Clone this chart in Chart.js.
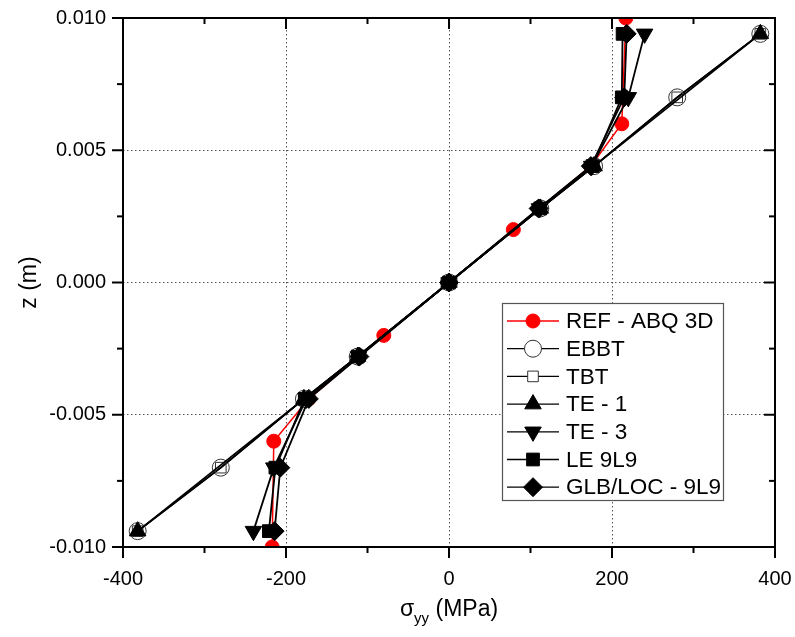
<!DOCTYPE html>
<html><head><meta charset="utf-8">
<style>html,body{margin:0;padding:0;background:#fff;} canvas{display:block;}</style>
<script src="https://cdn.jsdelivr.net/npm/chart.js"></script>
</head><body>
<canvas id="c" width="795" height="637"></canvas>
<script>
// ---- data ----
const seriesNames = ['REF - ABQ 3D', 'EBBT', 'TBT', 'TE - 1', 'TE - 3', 'LE 9L9', 'GLB/LOC - 9L9'];
const zRef   = [0.010, 0.006, 0.0044, 0.002, 0, -0.002, -0.0044, -0.006, -0.010];
const sRef   = [217, 212, 174, 79, 0, -80, -172, -215, -217];
const zModel = [0.0094, 0.007, 0.0044, 0.0028, 0, -0.0028, -0.0044, -0.007, -0.0094];
const sEBBT  = [382, 280, 178, 112, 0, -112, -178, -280, -382];
const sTBT   = [382, 280, 178, 112, 0, -112, -178, -280, -382];
const zTE1   = [0.0094, 0.0044, 0.0028, 0, -0.0028, -0.0044, -0.0094];
const sTE1   = [382, 178, 112, 0, -112, -178, -382];
const sTE3   = [240, 220, 175, 111, 0, -111, -175, -215, -240];
const sLE    = [213, 212, 176, 112, 0, -112, -177, -213, -221];
const sGLB   = [218, 215, 174, 110, 0, -110, -172, -207, -214];
const xTickLabels = ['-400', '-200', '0', '200', '400'];
const yTickLabels = ['-0.010', '-0.005', '0.000', '0.005', '0.010'];
const xTickValues = [-400, -200, 0, 200, 400];
const yTickValues = [-0.010, -0.005, 0, 0.005, 0.010];

const FONT = "'Liberation Sans', Arial, sans-serif";
const pts = (zs, ss) => zs.map((z, i) => ({x: ss[i], y: z}));

function ds(i, zs, ss, style) {
  return Object.assign({
    label: seriesNames[i],
    data: pts(zs, ss),
    showLine: true,
    borderColor: '#000',
    borderWidth: 1.8,
    pointBorderColor: '#000',
    pointBorderWidth: 1,
    order: 10 - i
  }, style);
}

const datasets = [
  ds(0, zRef, sRef, {borderColor: '#ff0000', borderWidth: 1.5, pointBackgroundColor: '#ff0000', pointBorderColor: '#ff0000', pointStyle: 'circle', pointRadius: 7}),
  ds(1, zModel, sEBBT, {pointBackgroundColor: 'rgba(0,0,0,0)', pointBorderColor: '#333', pointStyle: 'circle', pointRadius: 8.5}),
  ds(2, zModel, sTBT, {pointBackgroundColor: 'rgba(0,0,0,0)', pointBorderColor: '#333', pointStyle: 'rect', pointRadius: 7.5}),
  ds(3, zTE1, sTE1, {pointBackgroundColor: '#000', pointStyle: 'triangle', pointRadius: 9.5}),
  ds(4, zModel, sTE3, {pointBackgroundColor: '#000', pointStyle: 'triangle', pointRotation: 180, pointRadius: 9.5}),
  ds(5, zModel, sLE, {pointBackgroundColor: '#000', pointStyle: 'rect', pointRadius: 9}),
  ds(6, zModel, sGLB, {pointBackgroundColor: '#000', pointStyle: 'rectRot', pointRadius: 9.5})
];

function drawMarker(ctx, style, r, rot, x, y, fill, stroke) {
  ctx.save();
  ctx.translate(x, y);
  ctx.rotate((rot || 0) * Math.PI / 180);
  ctx.beginPath();
  if (style === 'circle') {
    ctx.arc(0, 0, r, 0, Math.PI * 2);
  } else if (style === 'rect') {
    const s = Math.SQRT1_2 * r;
    ctx.rect(-s, -s, 2 * s, 2 * s);
  } else if (style === 'rectRot') {
    ctx.moveTo(-r, 0); ctx.lineTo(0, -r); ctx.lineTo(r, 0); ctx.lineTo(0, r); ctx.closePath();
  } else if (style === 'triangle') {
    for (let k = 0; k < 3; k++) {
      const a = k * 2 * Math.PI / 3;
      const px = Math.sin(a) * r, py = -Math.cos(a) * r;
      if (k === 0) ctx.moveTo(px, py); else ctx.lineTo(px, py);
    }
    ctx.closePath();
  }
  ctx.fillStyle = fill; ctx.fill();
  ctx.strokeStyle = stroke; ctx.lineWidth = 1; ctx.stroke();
  ctx.restore();
}

const framePlugin = {
  id: 'frame',
  afterDraw(chart) {
    const ctx = chart.ctx, a = chart.chartArea, xs = chart.scales.x, ys = chart.scales.y;
    ctx.save();
    ctx.strokeStyle = '#000'; ctx.lineWidth = 2;
    ctx.strokeRect(a.left, a.top, a.right - a.left, a.bottom - a.top);
    const line = (x1, y1, x2, y2) => { ctx.beginPath(); ctx.moveTo(x1, y1); ctx.lineTo(x2, y2); ctx.stroke(); };
    const xMinor = [], yMinor = [];
    for (let i = 0; i < xTickValues.length - 1; i++) xMinor.push((xTickValues[i] + xTickValues[i + 1]) / 2);
    for (let i = 0; i < yTickValues.length - 1; i++) yMinor.push((yTickValues[i] + yTickValues[i + 1]) / 2);
    ctx.lineWidth = 2;
    const doX = (v, len) => { const p = xs.getPixelForValue(v); line(p, a.bottom, p, a.bottom + len); line(p, a.top, p, a.top + len); };
    const doY = (v, len) => { const p = ys.getPixelForValue(v); line(a.left, p, a.left - len, p); line(a.right, p, a.right - len, p); };
    xTickValues.forEach(v => doX(v, 11)); xMinor.forEach(v => doX(v, 6));
    yTickValues.forEach(v => doY(v, 11)); yMinor.forEach(v => doY(v, 6));

    ctx.fillStyle = '#000';
    ctx.textBaseline = 'alphabetic';
    const big = '23px ' + FONT, small = '15px ' + FONT;
    ctx.font = big; const w1 = ctx.measureText('\u03c3').width;
    ctx.font = small; const w2 = ctx.measureText('yy').width;
    ctx.font = big; const w3 = ctx.measureText(' (MPa)').width;
    const cx = (a.left + a.right) / 2;
    let tx = cx - (w1 + w2 + w3) / 2;
    const by = 616;
    ctx.textAlign = 'left';
    ctx.font = big; ctx.fillText('\u03c3', tx, by); tx += w1;
    ctx.font = small; ctx.fillText('yy', tx, by + 7); tx += w2;
    ctx.font = big; ctx.fillText(' (MPa)', tx, by);

    ctx.save();
    ctx.translate(30, (a.top + a.bottom) / 2);
    ctx.rotate(-Math.PI / 2);
    ctx.textAlign = 'center'; ctx.textBaseline = 'middle';
    ctx.font = big;
    ctx.fillText('z (m)', 0, 0);
    ctx.restore();

    // legend
    const lx = a.left + 379, ly = a.top + 285, lw = 221, lh = 197;
    ctx.fillStyle = '#fff';
    ctx.fillRect(lx, ly, lw, lh);
    ctx.strokeStyle = '#555'; ctx.lineWidth = 1.2;
    ctx.strokeRect(lx + 0.5, ly + 0.5, lw, lh);
    ctx.font = '22.5px ' + FONT;
    ctx.textAlign = 'left'; ctx.textBaseline = 'middle';
    chart.data.datasets.forEach((d, i) => {
      const ry = ly + 18 + i * 27.7;
      ctx.strokeStyle = d.borderColor; ctx.lineWidth = 1.3;
      line(lx + 5, ry, lx + 57, ry);
      drawMarker(ctx, d.pointStyle, d.pointRadius, d.pointRotation, lx + 31, ry,
        d.pointBackgroundColor === 'rgba(0,0,0,0)' ? '#fff' : d.pointBackgroundColor, d.pointBorderColor);
      ctx.fillStyle = '#000';
      ctx.fillText(d.label, lx + 64, ry + 1);
    });
    ctx.restore();
  }
};

function noPad(s) { s.paddingTop = 0; s.paddingBottom = 0; s.paddingLeft = 0; s.paddingRight = 0; }

new Chart(document.getElementById('c'), {
  type: 'scatter',
  data: {datasets},
  options: {
    responsive: false,
    animation: false,
    layout: {padding: {top: 18, right: 20, left: 0, bottom: 0}},
    plugins: {legend: {display: false}, tooltip: {enabled: false}},
    scales: {
      x: {
        type: 'linear', min: -400, max: 400,
        afterFit: s => { s.height = 90; noPad(s); },
        afterBuildTicks: s => { s.ticks = xTickValues.map(v => ({value: v})); },
        ticks: {
          color: '#000', font: {size: 20, family: FONT}, padding: 20,
          callback: (v) => { const k = xTickValues.indexOf(v); return k >= 0 ? xTickLabels[k] : ''; },
          maxRotation: 0
        },
        grid: {drawTicks: false, color: '#555', lineWidth: 1},
        border: {display: false, dash: [1.5, 2.5]}
      },
      y: {
        type: 'linear', min: -0.010, max: 0.010,
        afterFit: s => { s.width = 123; noPad(s); },
        afterBuildTicks: s => { s.ticks = yTickValues.map(v => ({value: v})); },
        ticks: {
          color: '#000', font: {size: 20, family: FONT}, padding: 17,
          callback: (v) => { const k = yTickValues.findIndex(t => Math.abs(t - v) < 1e-9); return k >= 0 ? yTickLabels[k] : ''; }
        },
        grid: {drawTicks: false, color: '#555', lineWidth: 1},
        border: {display: false, dash: [1.5, 2.5]}
      }
    }
  },
  plugins: [framePlugin]
});
</script>
</body></html>
